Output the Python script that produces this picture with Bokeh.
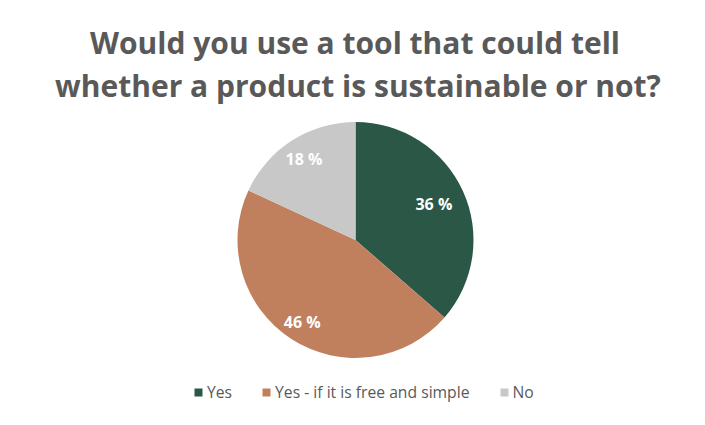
import math
from bokeh.plotting import figure
from bokeh.models import ColumnDataSource, Legend, LegendItem, Range1d
from bokeh.core.properties import value
from bokeh.embed import file_html
from bokeh.resources import INLINE

# ---- data ----
title_lines = ["Would you use a tool that could tell",
               "whether a product is sustainable or not?"]
categories = ["Yes", "Yes - if it is free and simple", "No"]
shares = [36.4, 45.5, 18.1]
share_labels = ["36 %", "46 %", "18 %"]
colors = ["#2B5747", "#C0805E", "#C8C8C8"]
label_radius = [0.73, 0.83, 0.81]   # fraction of the pie radius (style)

W, H = 689, 409
p = figure(width=W, height=H, output_backend="svg", toolbar_location=None,
           x_range=Range1d(0, W), y_range=Range1d(0, H), min_border=0,
           outline_line_color=None, background_fill_color="white",
           border_fill_color="white")
p.axis.visible = False
p.grid.visible = False

cx, cy, R = 355, 169.5, 118
total = sum(shares)
starts, ends, lx, ly = [], [], [], []
acc = 0.0
for i, s in enumerate(shares):
    a0 = math.pi / 2 - 2 * math.pi * acc / total
    acc += s
    a1 = math.pi / 2 - 2 * math.pi * acc / total
    starts.append(a0)
    ends.append(a1)
    mid = (a0 + a1) / 2
    lx.append(cx + label_radius[i] * R * math.cos(mid))
    ly.append(cy + label_radius[i] * R * math.sin(mid))

src = ColumnDataSource(dict(cat=categories, start=starts, end=ends, color=colors,
                            lx=lx, ly=ly, lab=share_labels))
wr = p.wedge(x=cx, y=cy, radius=R, radius_units="screen", start_angle="start",
             end_angle="end", direction="clock", fill_color="color",
             line_color="white", line_width=0, source=src)

p.text(x="lx", y="ly", text="lab", source=src, text_color="white",
       text_font=value("Open Sans"), text_font_style="bold",
       text_font_size="16px", text_align="center", text_baseline="middle")

# title
p.text(x=[354.5, 357.5], y=[367, 324], text=title_lines, text_color="#595959",
       text_font=value("Open Sans"), text_font_style="bold",
       text_font_size="30px", text_align="center", text_baseline="alphabetic")

legend = Legend(items=[LegendItem(label=c, renderers=[wr], index=i)
                       for i, c in enumerate(categories)],
                orientation="horizontal", location=(193, 6),
                glyph_width=10, glyph_height=10, label_standoff=4, spacing=29,
                padding=0, margin=0, border_line_color=None,
                background_fill_alpha=0,
                label_text_font="Open Sans", label_text_font_size="15.7px",
                label_text_color="#595959", label_height=15)
p.add_layout(legend, "center")

open("out.html", "w").write(file_html(p, INLINE))
